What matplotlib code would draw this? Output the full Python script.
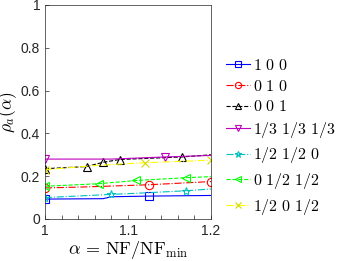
import numpy as np
import matplotlib.pyplot as plt
from matplotlib import rc

rc('font', family='Liberation Sans', size=9)
rc('mathtext', fontset='cm')

# data: (alpha, rho) pairs for each mix
labels = [r'$1\ 0\ 0$', r'$0\ 1\ 0$', r'$0\ 0\ 1$',
          r'$1/3\ 1/3\ 1/3$', r'$1/2\ 1/2\ 0$',
          r'$0\ 1/2\ 1/2$', r'$1/2\ 0\ 1/2$']

x_blue = [1.0, 1.07, 1.08, 1.125, 1.2]
y_blue = [0.093, 0.095, 0.104, 0.107, 0.11]
x_red = [1.0, 1.05, 1.125, 1.2]
y_red = [0.145, 0.15, 0.16, 0.175]
x_black = [1.0, 1.05, 1.07, 1.09, 1.165, 1.2]
y_black = [0.235, 0.245, 0.265, 0.278, 0.29, 0.3]
x_mag = [1.0, 1.08, 1.145, 1.2]
y_mag = [0.28, 0.28, 0.29, 0.297]
x_cyan = [1.0, 1.08, 1.12, 1.17, 1.2]
y_cyan = [0.1, 0.115, 0.122, 0.132, 0.14]
x_green = [1.0, 1.065, 1.11, 1.17, 1.2]
y_green = [0.153, 0.165, 0.18, 0.193, 0.198]
x_yel = [1.0, 1.06, 1.12, 1.2]
y_yel = [0.23, 0.25, 0.263, 0.275]

# which points carry a marker
mk_blue = [0, 3]
mk_red = [0, 2, 3]
mk_black = [0, 1, 2, 3, 4]
mk_mag = [0, 2]
mk_cyan = [0, 1, 3]
mk_green = [0, 1, 2, 3]
mk_yel = [0, 2, 3]

fig = plt.figure(figsize=(3.46, 2.61), dpi=100)
ax = fig.add_axes([45/346, 42/261, 166/346, 214/261])

series = [
    (x_blue, y_blue, mk_blue, 'b', '-', 's', 'b'),
    (x_red, y_red, mk_red, 'r', '-.', 'o', 'r'),
    (x_black, y_black, mk_black, 'k', '--', '^', 'k'),
    (x_mag, y_mag, mk_mag, 'm', '-', 'v', 'm'),
    (x_cyan, y_cyan, mk_cyan, 'c', '-.', '*', 'c'),
    (x_green, y_green, mk_green, '#00ff00', '--', '<', '#00ff00'),
    (x_yel, y_yel, mk_yel, '#ffff00', '-.', 'x', '#d8d800'),
]
for (xs, ys, mk, col, ls, m, mcol), lab in zip(series, labels):
    ax.plot(xs, ys, color=col, ls=ls, lw=0.8, marker=m, markevery=mk,
            markersize=6, markerfacecolor='none', markeredgecolor=mcol,
            markeredgewidth=0.8, label=lab)

ax.set_xlim(1, 1.2)
ax.set_ylim(0, 1)
ax.set_xticks(np.arange(1, 1.2001, 0.02))
ax.set_xticklabels(['1', '', '', '', '', '1.1', '', '', '', '', '1.2'])
ax.set_yticks([0, 0.2, 0.4, 0.6, 0.8, 1])
ax.set_yticklabels(['0', '0.2', '0.4', '0.6', '0.8', '1'])
ax.tick_params(direction='in', length=3, width=0.5, labelsize=10, colors='#262626')
for s in ax.spines.values():
    s.set_linewidth(0.5)
    s.set_color('#262626')
ax.set_xlabel(r'$\alpha\,=\,\mathrm{NF}/\mathrm{NF}_{\min}$', fontsize=13, labelpad=1)
ax.set_ylabel(r'$\rho_a(\alpha)$', fontsize=12.5)
ax.yaxis.set_label_coords(-0.155, 0.5)

fig.legend(loc='upper left', bbox_to_anchor=(226/346, 1 - 58/261), frameon=False,
           fontsize=11.5, handlelength=1.5, handletextpad=0.2, labelspacing=0.35,
           markerscale=0.75, borderaxespad=0, borderpad=0)

plt.savefig('out.png', dpi=100)
